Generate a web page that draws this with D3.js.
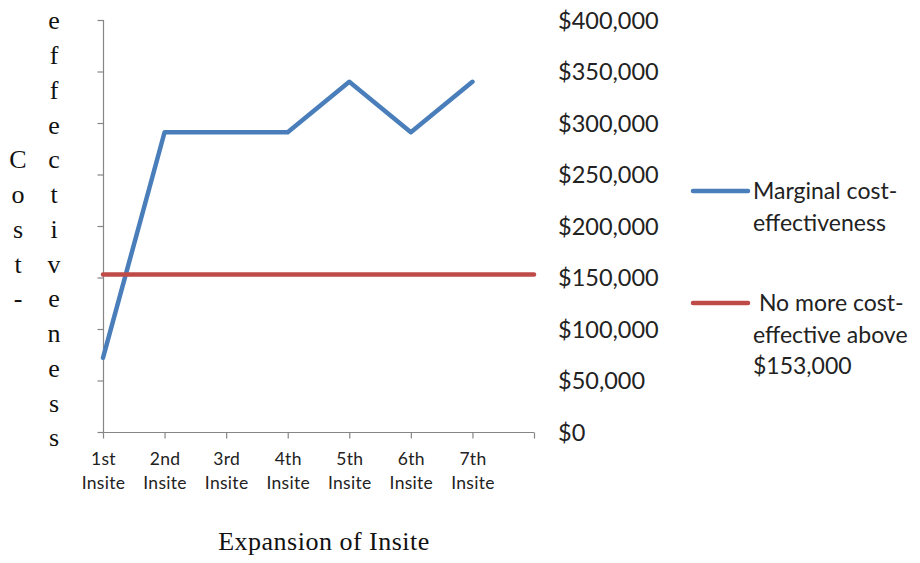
<!DOCTYPE html>
<html>
<head>
<meta charset="utf-8">
<script src="https://cdn.jsdelivr.net/npm/d3@7"></script>
<style>
  html, body { margin: 0; padding: 0; background: #fff; }
  svg { display: block; }
</style>
</head>
<body>
<svg id="chart" width="920" height="563"></svg>
<script>
// Category slots along the x axis (the last slot carries the threshold line only)
const categories = ["1st Insite", "2nd Insite", "3rd Insite", "4th Insite", "5th Insite", "6th Insite", "7th Insite", ""];
// Marginal cost-effectiveness per expansion step (USD)
const marginalValues = [72000, 291000, 291000, 291000, 340000, 291000, 340000];
// Threshold above which an expansion is no longer cost-effective (USD)
const thresholdValues = [153000, 153000, 153000, 153000, 153000, 153000, 153000, 153000];
// Value axis ticks
const yTicks = [0, 50000, 100000, 150000, 200000, 250000, 300000, 350000, 400000];
const seriesNames = ["Marginal cost-\neffectiveness", " No more cost-\neffective above\n$153,000"];
const xTitle = "Expansion of Insite";
const yTitle = "Cost-effectiveness";

const svg = d3.select("#chart");
const plot = { left: 103, right: 534, top: 20, bottom: 432 };
const colors = ["#4A7EBB", "#BE4B48"];
const axisColor = "#868686";
const sans = "Lato, 'Open Sans', sans-serif";
const serif = "'Liberation Serif', 'DejaVu Serif', serif";

const x = d3.scalePoint().domain(d3.range(categories.length)).range([plot.left, plot.right]);
const y = d3.scaleLinear().domain([0, 400000]).range([plot.bottom, plot.top]);

// Left value axis: line and outside ticks, no labels
const left = svg.append("g")
  .attr("transform", `translate(${plot.left + 0.5},0)`)
  .call(d3.axisLeft(y).tickValues(yTicks).tickSize(6).tickFormat(""));
left.selectAll("path, line").attr("stroke", axisColor).attr("stroke-width", 1.2);
left.select(".domain").attr("d", `M0,${plot.top}V${plot.bottom}`);

// Right value labels (no axis line)
const right = svg.append("g")
  .attr("transform", `translate(${plot.right + 24},0)`)
  .call(d3.axisRight(y).tickValues(yTicks).tickSize(0).tickPadding(0)
    .tickFormat(d => "$" + d3.format(",")(d)));
right.select(".domain").remove();
right.selectAll("text")
  .attr("font-family", sans).attr("font-size", 23.5).attr("fill", "#222")
  .attr("text-anchor", "start").attr("dy", "0.36em");

// Category axis
const bottom = svg.append("g")
  .attr("transform", `translate(0,${plot.bottom + 0.5})`)
  .call(d3.axisBottom(x).tickSize(6).tickFormat(""));
bottom.selectAll("path, line").attr("stroke", axisColor).attr("stroke-width", 1.2);
bottom.select(".domain").attr("d", `M${plot.left},0H${plot.right}`);

bottom.selectAll(".tick").each(function(i) {
  const parts = categories[i].split(" ").filter(s => s);
  const t = d3.select(this).append("text")
    .attr("font-family", sans).attr("font-size", 17.5).attr("fill", "#222")
    .attr("text-anchor", "middle").attr("letter-spacing", 0.3);
  parts.forEach((p, k) => {
    t.append("tspan").attr("x", 0).attr("y", 32 + k * 24).text(p);
  });
});

// Series lines
const line = d3.line().x((d, i) => x(i)).y(d => y(d));
[marginalValues, thresholdValues].forEach((vals, s) => {
  svg.append("path")
    .datum(vals)
    .attr("d", line)
    .attr("fill", "none")
    .attr("stroke", colors[s])
    .attr("stroke-width", 4.5)
    .attr("stroke-linejoin", "round")
    .attr("stroke-linecap", "round");
});

// Legend
const legendTops = [191, 303];
seriesNames.forEach((name, s) => {
  const g = svg.append("g").attr("transform", `translate(693,${legendTops[s]})`);
  g.append("line").attr("x1", 0).attr("x2", 55).attr("y1", 0).attr("y2", 0)
    .attr("stroke", colors[s]).attr("stroke-width", 4.5).attr("stroke-linecap", "round");
  const t = g.append("text")
    .attr("font-family", sans).attr("font-size", 23).attr("fill", "#222")
    .attr("xml:space", "preserve");
  name.split("\n").forEach((ln, k) => {
    t.append("tspan").attr("x", 60).attr("y", k * 31.5).attr("dy", "0.36em").text(ln);
  });
});

// X axis title
svg.append("text")
  .attr("x", 324).attr("y", 550)
  .attr("text-anchor", "middle")
  .attr("font-family", serif).attr("font-size", 26).attr("fill", "#111")
  .attr("letter-spacing", 0.5)
  .text(xTitle);

// Y axis title: letters stacked in two columns, split at the hyphen
const cols = [yTitle.slice(0, yTitle.indexOf("-") + 1), yTitle.slice(yTitle.indexOf("-") + 1)];
const colX = [18, 54];
const step = 34.75, midY = 230;
cols.forEach((word, c) => {
  const n = word.length;
  word.split("").forEach((ch, k) => {
    svg.append("text")
      .attr("x", colX[c])
      .attr("y", midY + (k - (n - 1) / 2) * step)
      .attr("dy", "0.3em")
      .attr("text-anchor", "middle")
      .attr("font-family", serif).attr("font-size", 26).attr("fill", "#111")
      .text(ch);
  });
});
</script>
</body>
</html>
